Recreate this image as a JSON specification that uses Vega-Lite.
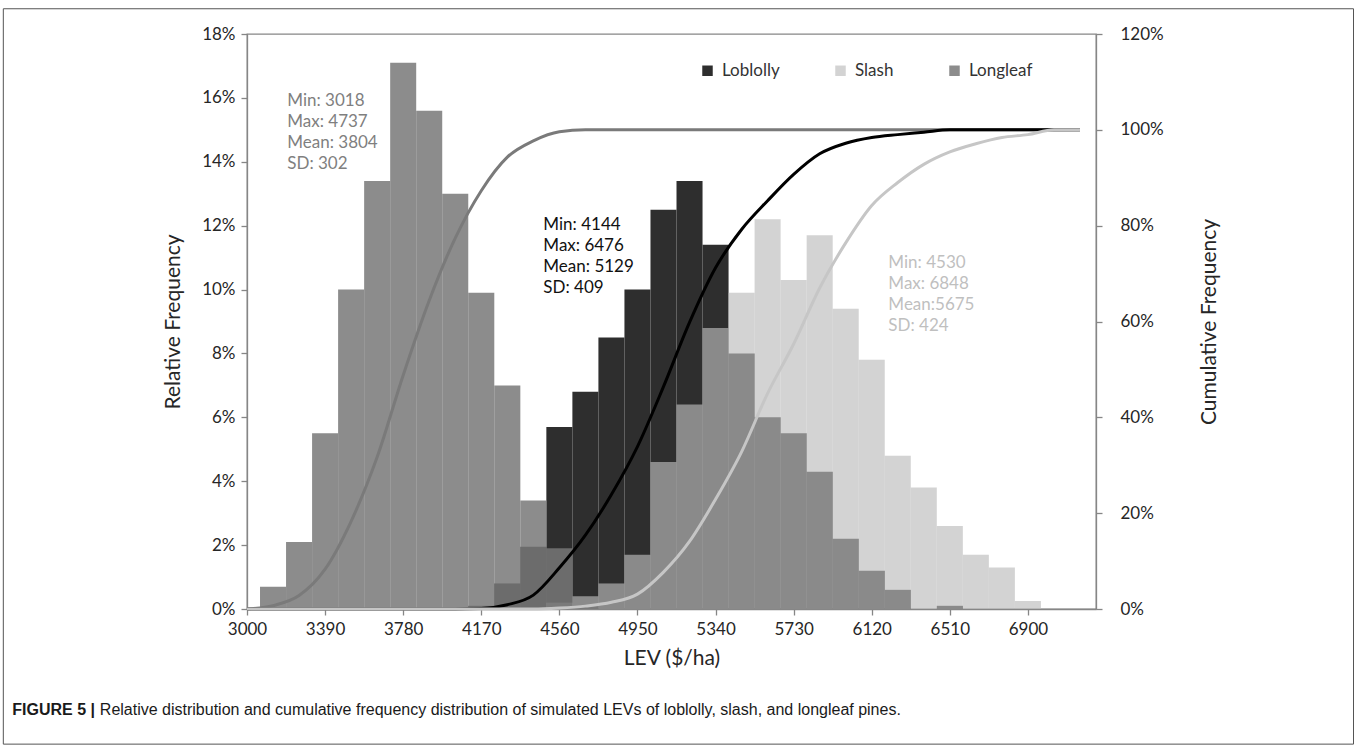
{
  "$schema": "https://vega.github.io/schema/vega-lite/v6.json",
  "width": 849,
  "height": 575,
  "autosize": {"type": "none"},
  "padding": {"left": 247, "top": 34, "right": 261, "bottom": 137},
  "background": "white",
  "config": {
    "font": "Lato",
    "view": {"stroke": "#868686", "strokeWidth": 1.3},
    "axis": {
      "domainColor": "#868686", "tickColor": "#868686", "grid": false,
      "labelFont": "Lato", "labelFontSize": 17, "labelColor": "#262626",
      "titleFont": "Lato", "titleFontSize": 21, "titleFontWeight": "normal", "titleColor": "#262626",
      "tickSize": 6, "labelPadding": 6, "domainWidth": 1.3, "tickWidth": 1.3
    },
    "legend": {
      "orient": "none", "legendX": 452, "legendY": 28, "direction": "horizontal",
      "symbolType": "square", "symbolSize": 110, "symbolStrokeWidth": 0,
      "labelFont": "Lato", "labelFontSize": 17, "labelColor": "#333333",
      "columnPadding": 52, "labelOffset": 6
    }
  },
  "datasets": {
    "bars": [
      {"species": "Loblolly", "start": 4105, "end": 4235, "rel": 0.001},
      {"species": "Loblolly", "start": 4235, "end": 4365, "rel": 0.008},
      {"species": "Loblolly", "start": 4365, "end": 4495, "rel": 0.0195},
      {"species": "Loblolly", "start": 4495, "end": 4625, "rel": 0.057},
      {"species": "Loblolly", "start": 4625, "end": 4755, "rel": 0.068},
      {"species": "Loblolly", "start": 4755, "end": 4885, "rel": 0.085},
      {"species": "Loblolly", "start": 4885, "end": 5015, "rel": 0.100},
      {"species": "Loblolly", "start": 5015, "end": 5145, "rel": 0.125},
      {"species": "Loblolly", "start": 5145, "end": 5275, "rel": 0.134},
      {"species": "Loblolly", "start": 5275, "end": 5405, "rel": 0.114},
      {"species": "Loblolly", "start": 5405, "end": 5535, "rel": 0.080},
      {"species": "Loblolly", "start": 5535, "end": 5665, "rel": 0.060},
      {"species": "Loblolly", "start": 5665, "end": 5795, "rel": 0.055},
      {"species": "Loblolly", "start": 5795, "end": 5925, "rel": 0.043},
      {"species": "Loblolly", "start": 5925, "end": 6055, "rel": 0.022},
      {"species": "Loblolly", "start": 6055, "end": 6185, "rel": 0.012},
      {"species": "Loblolly", "start": 6185, "end": 6315, "rel": 0.006},
      {"species": "Loblolly", "start": 6445, "end": 6575, "rel": 0.001},
      {"species": "Slash", "start": 4495, "end": 4625, "rel": 0.002},
      {"species": "Slash", "start": 4625, "end": 4755, "rel": 0.004},
      {"species": "Slash", "start": 4755, "end": 4885, "rel": 0.008},
      {"species": "Slash", "start": 4885, "end": 5015, "rel": 0.017},
      {"species": "Slash", "start": 5015, "end": 5145, "rel": 0.046},
      {"species": "Slash", "start": 5145, "end": 5275, "rel": 0.064},
      {"species": "Slash", "start": 5275, "end": 5405, "rel": 0.088},
      {"species": "Slash", "start": 5405, "end": 5535, "rel": 0.099},
      {"species": "Slash", "start": 5535, "end": 5665, "rel": 0.122},
      {"species": "Slash", "start": 5665, "end": 5795, "rel": 0.103},
      {"species": "Slash", "start": 5795, "end": 5925, "rel": 0.117},
      {"species": "Slash", "start": 5925, "end": 6055, "rel": 0.094},
      {"species": "Slash", "start": 6055, "end": 6185, "rel": 0.078},
      {"species": "Slash", "start": 6185, "end": 6315, "rel": 0.048},
      {"species": "Slash", "start": 6315, "end": 6445, "rel": 0.038},
      {"species": "Slash", "start": 6445, "end": 6575, "rel": 0.026},
      {"species": "Slash", "start": 6575, "end": 6705, "rel": 0.017},
      {"species": "Slash", "start": 6705, "end": 6835, "rel": 0.013},
      {"species": "Slash", "start": 6835, "end": 6965, "rel": 0.0025},
      {"species": "Longleaf", "start": 3065, "end": 3195, "rel": 0.007},
      {"species": "Longleaf", "start": 3195, "end": 3325, "rel": 0.021},
      {"species": "Longleaf", "start": 3325, "end": 3455, "rel": 0.055},
      {"species": "Longleaf", "start": 3455, "end": 3585, "rel": 0.100},
      {"species": "Longleaf", "start": 3585, "end": 3715, "rel": 0.134},
      {"species": "Longleaf", "start": 3715, "end": 3845, "rel": 0.171},
      {"species": "Longleaf", "start": 3845, "end": 3975, "rel": 0.156},
      {"species": "Longleaf", "start": 3975, "end": 4105, "rel": 0.130},
      {"species": "Longleaf", "start": 4105, "end": 4235, "rel": 0.099},
      {"species": "Longleaf", "start": 4235, "end": 4365, "rel": 0.070},
      {"species": "Longleaf", "start": 4365, "end": 4495, "rel": 0.034},
      {"species": "Longleaf", "start": 4495, "end": 4625, "rel": 0.019},
      {"species": "Longleaf", "start": 4625, "end": 4755, "rel": 0.001}
    ],
    "cum": [
      {"species": "Longleaf", "lev": 3000, "cum": 0},
      {"species": "Longleaf", "lev": 3130, "cum": 0.007},
      {"species": "Longleaf", "lev": 3260, "cum": 0.028},
      {"species": "Longleaf", "lev": 3390, "cum": 0.083},
      {"species": "Longleaf", "lev": 3520, "cum": 0.183},
      {"species": "Longleaf", "lev": 3650, "cum": 0.317},
      {"species": "Longleaf", "lev": 3780, "cum": 0.488},
      {"species": "Longleaf", "lev": 3910, "cum": 0.644},
      {"species": "Longleaf", "lev": 4040, "cum": 0.774},
      {"species": "Longleaf", "lev": 4170, "cum": 0.873},
      {"species": "Longleaf", "lev": 4300, "cum": 0.943},
      {"species": "Longleaf", "lev": 4430, "cum": 0.977},
      {"species": "Longleaf", "lev": 4560, "cum": 0.996},
      {"species": "Longleaf", "lev": 4690, "cum": 1},
      {"species": "Longleaf", "lev": 4820, "cum": 1},
      {"species": "Longleaf", "lev": 4950, "cum": 1},
      {"species": "Longleaf", "lev": 5080, "cum": 1},
      {"species": "Longleaf", "lev": 5210, "cum": 1},
      {"species": "Longleaf", "lev": 5340, "cum": 1},
      {"species": "Longleaf", "lev": 5470, "cum": 1},
      {"species": "Longleaf", "lev": 5600, "cum": 1},
      {"species": "Longleaf", "lev": 5730, "cum": 1},
      {"species": "Longleaf", "lev": 5860, "cum": 1},
      {"species": "Longleaf", "lev": 5990, "cum": 1},
      {"species": "Longleaf", "lev": 6120, "cum": 1},
      {"species": "Longleaf", "lev": 6250, "cum": 1},
      {"species": "Longleaf", "lev": 6380, "cum": 1},
      {"species": "Longleaf", "lev": 6510, "cum": 1},
      {"species": "Longleaf", "lev": 6640, "cum": 1},
      {"species": "Longleaf", "lev": 6770, "cum": 1},
      {"species": "Longleaf", "lev": 6900, "cum": 1},
      {"species": "Longleaf", "lev": 7030, "cum": 1},
      {"species": "Longleaf", "lev": 7160, "cum": 1},
      {"species": "Loblolly", "lev": 3000, "cum": 0},
      {"species": "Loblolly", "lev": 3130, "cum": 0},
      {"species": "Loblolly", "lev": 3260, "cum": 0},
      {"species": "Loblolly", "lev": 3390, "cum": 0},
      {"species": "Loblolly", "lev": 3520, "cum": 0},
      {"species": "Loblolly", "lev": 3650, "cum": 0},
      {"species": "Loblolly", "lev": 3780, "cum": 0},
      {"species": "Loblolly", "lev": 3910, "cum": 0},
      {"species": "Loblolly", "lev": 4040, "cum": 0},
      {"species": "Loblolly", "lev": 4170, "cum": 0.001},
      {"species": "Loblolly", "lev": 4300, "cum": 0.009},
      {"species": "Loblolly", "lev": 4430, "cum": 0.029},
      {"species": "Loblolly", "lev": 4560, "cum": 0.086},
      {"species": "Loblolly", "lev": 4690, "cum": 0.154},
      {"species": "Loblolly", "lev": 4820, "cum": 0.239},
      {"species": "Loblolly", "lev": 4950, "cum": 0.339},
      {"species": "Loblolly", "lev": 5080, "cum": 0.464},
      {"species": "Loblolly", "lev": 5210, "cum": 0.598},
      {"species": "Loblolly", "lev": 5340, "cum": 0.712},
      {"species": "Loblolly", "lev": 5470, "cum": 0.792},
      {"species": "Loblolly", "lev": 5600, "cum": 0.852},
      {"species": "Loblolly", "lev": 5730, "cum": 0.907},
      {"species": "Loblolly", "lev": 5860, "cum": 0.950},
      {"species": "Loblolly", "lev": 5990, "cum": 0.972},
      {"species": "Loblolly", "lev": 6120, "cum": 0.984},
      {"species": "Loblolly", "lev": 6250, "cum": 0.990},
      {"species": "Loblolly", "lev": 6380, "cum": 0.995},
      {"species": "Loblolly", "lev": 6510, "cum": 1},
      {"species": "Loblolly", "lev": 6640, "cum": 1},
      {"species": "Loblolly", "lev": 6770, "cum": 1},
      {"species": "Loblolly", "lev": 6900, "cum": 1},
      {"species": "Loblolly", "lev": 7030, "cum": 1},
      {"species": "Loblolly", "lev": 7160, "cum": 1},
      {"species": "Slash", "lev": 3000, "cum": 0},
      {"species": "Slash", "lev": 3130, "cum": 0},
      {"species": "Slash", "lev": 3260, "cum": 0},
      {"species": "Slash", "lev": 3390, "cum": 0},
      {"species": "Slash", "lev": 3520, "cum": 0},
      {"species": "Slash", "lev": 3650, "cum": 0},
      {"species": "Slash", "lev": 3780, "cum": 0},
      {"species": "Slash", "lev": 3910, "cum": 0},
      {"species": "Slash", "lev": 4040, "cum": 0},
      {"species": "Slash", "lev": 4170, "cum": 0},
      {"species": "Slash", "lev": 4300, "cum": 0},
      {"species": "Slash", "lev": 4430, "cum": 0},
      {"species": "Slash", "lev": 4560, "cum": 0.002},
      {"species": "Slash", "lev": 4690, "cum": 0.006},
      {"species": "Slash", "lev": 4820, "cum": 0.014},
      {"species": "Slash", "lev": 4950, "cum": 0.031},
      {"species": "Slash", "lev": 5080, "cum": 0.077},
      {"species": "Slash", "lev": 5210, "cum": 0.141},
      {"species": "Slash", "lev": 5340, "cum": 0.229},
      {"species": "Slash", "lev": 5470, "cum": 0.328},
      {"species": "Slash", "lev": 5600, "cum": 0.450},
      {"species": "Slash", "lev": 5730, "cum": 0.553},
      {"species": "Slash", "lev": 5860, "cum": 0.670},
      {"species": "Slash", "lev": 5990, "cum": 0.764},
      {"species": "Slash", "lev": 6120, "cum": 0.842},
      {"species": "Slash", "lev": 6250, "cum": 0.890},
      {"species": "Slash", "lev": 6380, "cum": 0.928},
      {"species": "Slash", "lev": 6510, "cum": 0.954},
      {"species": "Slash", "lev": 6640, "cum": 0.971},
      {"species": "Slash", "lev": 6770, "cum": 0.984},
      {"species": "Slash", "lev": 6900, "cum": 0.990},
      {"species": "Slash", "lev": 7030, "cum": 1},
      {"species": "Slash", "lev": 7160, "cum": 1}
    ],
    "one": [{"item": "annotation"}]
  },
  "layer": [
    {
      "layer": [
        {
          "data": {"name": "bars"},
          "mark": {"type": "bar", "stroke": null},
          "encoding": {
            "x": {
              "field": "start", "type": "quantitative",
              "scale": {"domain": [3000, 7240], "nice": false, "zero": false},
              "axis": {"values": [3000, 3390, 3780, 4170, 4560, 4950, 5340, 5730, 6120, 6510, 6900], "format": "d", "title": "LEV ($/ha)", "titlePadding": 10, "labelFlush": false}
            },
            "x2": {"field": "end"},
            "y": {
              "field": "rel", "type": "quantitative", "stack": null,
              "scale": {"domain": [0, 0.18], "nice": false},
              "axis": {"values": [0, 0.02, 0.04, 0.06, 0.08, 0.1, 0.12, 0.14, 0.16, 0.18], "format": ".0%", "title": "Relative Frequency", "titlePadding": 18}
            },
            "y2": {"datum": 0},
            "color": {
              "field": "species", "type": "nominal",
              "scale": {"domain": ["Loblolly", "Slash", "Longleaf"], "range": ["#2e2e2e", "#bcbcbc", "#777777"]},
              "legend": {"title": null}
            },
            "opacity": {
              "field": "species", "type": "nominal",
              "scale": {"type": "ordinal", "domain": ["Loblolly", "Slash", "Longleaf"], "range": [1, 0.65, 0.847]},
              "legend": {"title": null}
            }
          }
        },
        {
          "data": {"name": "one"},
          "mark": {"type": "rect", "filled": false, "stroke": "#555555", "strokeWidth": 1, "clip": false},
          "encoding": {
            "x": {"datum": 1783, "type": "quantitative", "scale": {"domain": [3000, 7240], "nice": false, "zero": false},
              "axis": {"values": [3000, 3390, 3780, 4170, 4560, 4950, 5340, 5730, 6120, 6510, 6900], "format": "d", "title": "LEV ($/ha)", "titlePadding": 10, "labelFlush": false}},
            "x2": {"datum": 8526},
            "y": {"datum": 0.1879, "type": "quantitative", "scale": {"domain": [0, 0.18], "nice": false},
              "axis": {"values": [0, 0.02, 0.04, 0.06, 0.08, 0.1, 0.12, 0.14, 0.16, 0.18], "format": ".0%", "title": "Relative Frequency", "titlePadding": 18}},
            "y2": {"datum": -0.0423}
          }
        },
        {
          "data": {"name": "one"},
          "mark": {"type": "text", "align": "left", "baseline": "top", "fontSize": 17, "lineHeight": 21, "font": "Lato", "color": "#7f7f7f"},
          "encoding": {
            "x": {"datum": 3201, "type": "quantitative", "scale": {"domain": [3000, 7240], "nice": false, "zero": false},
              "axis": {"values": [3000, 3390, 3780, 4170, 4560, 4950, 5340, 5730, 6120, 6510, 6900], "format": "d", "title": "LEV ($/ha)", "titlePadding": 10, "labelFlush": false}},
            "y": {"datum": 0.1615, "type": "quantitative", "scale": {"domain": [0, 0.18], "nice": false},
              "axis": {"values": [0, 0.02, 0.04, 0.06, 0.08, 0.1, 0.12, 0.14, 0.16, 0.18], "format": ".0%", "title": "Relative Frequency", "titlePadding": 18}},
            "text": {"value": ["Min: 3018", "Max: 4737", "Mean: 3804", "SD: 302"]}
          }
        },
        {
          "data": {"name": "one"},
          "mark": {"type": "text", "align": "left", "baseline": "top", "fontSize": 17, "lineHeight": 21, "font": "Lato", "color": "#111111"},
          "encoding": {
            "x": {"datum": 4480, "type": "quantitative", "scale": {"domain": [3000, 7240], "nice": false, "zero": false},
              "axis": {"values": [3000, 3390, 3780, 4170, 4560, 4950, 5340, 5730, 6120, 6510, 6900], "format": "d", "title": "LEV ($/ha)", "titlePadding": 10, "labelFlush": false}},
            "y": {"datum": 0.1227, "type": "quantitative", "scale": {"domain": [0, 0.18], "nice": false},
              "axis": {"values": [0, 0.02, 0.04, 0.06, 0.08, 0.1, 0.12, 0.14, 0.16, 0.18], "format": ".0%", "title": "Relative Frequency", "titlePadding": 18}},
            "text": {"value": ["Min: 4144", "Max: 6476", "Mean: 5129", "SD: 409"]}
          }
        },
        {
          "data": {"name": "one"},
          "mark": {"type": "text", "align": "left", "baseline": "top", "fontSize": 17, "lineHeight": 21, "font": "Lato", "color": "#bfbfbf"},
          "encoding": {
            "x": {"datum": 6203, "type": "quantitative", "scale": {"domain": [3000, 7240], "nice": false, "zero": false},
              "axis": {"values": [3000, 3390, 3780, 4170, 4560, 4950, 5340, 5730, 6120, 6510, 6900], "format": "d", "title": "LEV ($/ha)", "titlePadding": 10, "labelFlush": false}},
            "y": {"datum": 0.1108, "type": "quantitative", "scale": {"domain": [0, 0.18], "nice": false},
              "axis": {"values": [0, 0.02, 0.04, 0.06, 0.08, 0.1, 0.12, 0.14, 0.16, 0.18], "format": ".0%", "title": "Relative Frequency", "titlePadding": 18}},
            "text": {"value": ["Min: 4530", "Max: 6848", "Mean:5675", "SD: 424"]}
          }
        },
        {
          "data": {"name": "one"},
          "mark": {"type": "text", "align": "left", "baseline": "middle", "fontSize": 16, "font": "Liberation Sans", "fontWeight": "bold", "color": "#1a1a1a"},
          "encoding": {
            "x": {"datum": 1828, "type": "quantitative", "scale": {"domain": [3000, 7240], "nice": false, "zero": false},
              "axis": {"values": [3000, 3390, 3780, 4170, 4560, 4950, 5340, 5730, 6120, 6510, 6900], "format": "d", "title": "LEV ($/ha)", "titlePadding": 10, "labelFlush": false}},
            "y": {"datum": -0.0316, "type": "quantitative", "scale": {"domain": [0, 0.18], "nice": false},
              "axis": {"values": [0, 0.02, 0.04, 0.06, 0.08, 0.1, 0.12, 0.14, 0.16, 0.18], "format": ".0%", "title": "Relative Frequency", "titlePadding": 18}},
            "text": {"value": "FIGURE 5 |"}
          }
        },
        {
          "data": {"name": "one"},
          "mark": {"type": "text", "align": "left", "baseline": "middle", "fontSize": 16, "font": "Liberation Sans", "color": "#1a1a1a"},
          "encoding": {
            "x": {"datum": 2265, "type": "quantitative", "scale": {"domain": [3000, 7240], "nice": false, "zero": false},
              "axis": {"values": [3000, 3390, 3780, 4170, 4560, 4950, 5340, 5730, 6120, 6510, 6900], "format": "d", "title": "LEV ($/ha)", "titlePadding": 10, "labelFlush": false}},
            "y": {"datum": -0.0316, "type": "quantitative", "scale": {"domain": [0, 0.18], "nice": false},
              "axis": {"values": [0, 0.02, 0.04, 0.06, 0.08, 0.1, 0.12, 0.14, 0.16, 0.18], "format": ".0%", "title": "Relative Frequency", "titlePadding": 18}},
            "text": {"value": "Relative distribution and cumulative frequency distribution of simulated LEVs of loblolly, slash, and longleaf pines."}
          }
        }
      ]
    },
    {
      "data": {"name": "cum"},
      "layer": [
        {
          "transform": [{"filter": "datum.species === 'Longleaf'"}],
          "mark": {"type": "line", "color": "#7a7a7a", "strokeWidth": 3, "interpolate": "monotone"},
          "encoding": {
            "x": {"field": "lev", "type": "quantitative", "scale": {"domain": [3000, 7240], "nice": false, "zero": false},
              "axis": {"values": [3000, 3390, 3780, 4170, 4560, 4950, 5340, 5730, 6120, 6510, 6900], "format": "d", "title": "LEV ($/ha)", "titlePadding": 10, "labelFlush": false}},
            "y": {"field": "cum", "type": "quantitative", "scale": {"domain": [0, 1.2], "nice": false},
              "axis": {"orient": "right", "values": [0, 0.2, 0.4, 0.6, 0.8, 1, 1.2], "format": ".0%", "title": "Cumulative Frequency", "titleAngle": 270, "labelPadding": 18, "titlePadding": 56}}
          }
        },
        {
          "transform": [{"filter": "datum.species === 'Loblolly'"}],
          "mark": {"type": "line", "color": "#000000", "strokeWidth": 3, "interpolate": "monotone"},
          "encoding": {
            "x": {"field": "lev", "type": "quantitative", "scale": {"domain": [3000, 7240], "nice": false, "zero": false},
              "axis": {"values": [3000, 3390, 3780, 4170, 4560, 4950, 5340, 5730, 6120, 6510, 6900], "format": "d", "title": "LEV ($/ha)", "titlePadding": 10, "labelFlush": false}},
            "y": {"field": "cum", "type": "quantitative", "scale": {"domain": [0, 1.2], "nice": false},
              "axis": {"orient": "right", "values": [0, 0.2, 0.4, 0.6, 0.8, 1, 1.2], "format": ".0%", "title": "Cumulative Frequency", "titleAngle": 270, "labelPadding": 18, "titlePadding": 56}}
          }
        },
        {
          "transform": [{"filter": "datum.species === 'Slash'"}],
          "mark": {"type": "line", "color": "#c6c6c6", "strokeWidth": 3, "interpolate": "monotone"},
          "encoding": {
            "x": {"field": "lev", "type": "quantitative", "scale": {"domain": [3000, 7240], "nice": false, "zero": false},
              "axis": {"values": [3000, 3390, 3780, 4170, 4560, 4950, 5340, 5730, 6120, 6510, 6900], "format": "d", "title": "LEV ($/ha)", "titlePadding": 10, "labelFlush": false}},
            "y": {"field": "cum", "type": "quantitative", "scale": {"domain": [0, 1.2], "nice": false},
              "axis": {"orient": "right", "values": [0, 0.2, 0.4, 0.6, 0.8, 1, 1.2], "format": ".0%", "title": "Cumulative Frequency", "titleAngle": 270, "labelPadding": 18, "titlePadding": 56}}
          }
        }
      ]
    }
  ],
  "resolve": {"scale": {"y": "independent"}}
}
